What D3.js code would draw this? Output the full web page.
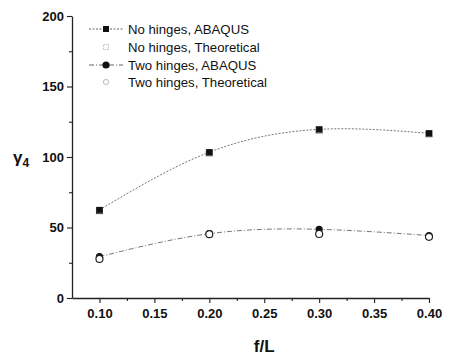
<!DOCTYPE html>
<html>
<head>
<meta charset="utf-8">
<script src="https://cdn.jsdelivr.net/npm/d3@7"></script>
<style>
  html, body { margin: 0; padding: 0; background: #fff; }
  svg { display: block; font-family: "Liberation Sans", Arial, sans-serif; }
</style>
</head>
<body>
<svg id="chart" width="449" height="355"></svg>
<script>
// f/L ratios on the horizontal axis
const ratios = [0.10, 0.20, 0.30, 0.40];

// gamma_4 values per series
const noHingesAbaqus = [62.5, 103.4, 119.6, 116.8];
const noHingesTheory = [62.0, 103.0, 119.2, 116.5];
const twoHingesAbaqus = [29.3, 45.6, 48.7, 44.3];
const twoHingesTheory = [27.7, 45.3, 45.4, 43.4];

const seriesNames = [
  "No hinges, ABAQUS",
  "No hinges, Theoretical",
  "Two hinges, ABAQUS",
  "Two hinges, Theoretical"
];

const xTicks = [0.10, 0.15, 0.20, 0.25, 0.30, 0.35, 0.40];
const xMinor = [0.125, 0.175, 0.225, 0.275, 0.325, 0.375];
const yTicks = [0, 50, 100, 150, 200];
const yMinor = [25, 75, 125, 175];

const svg = d3.select("#chart");

const x = d3.scaleLinear().domain([0.075, 0.40]).range([72, 429]);
const y = d3.scaleLinear().domain([0, 200]).range([298, 16]);

// axes
svg.append("g").attr("transform", `translate(0,${y(0)})`)
  .call(d3.axisBottom(x).tickValues(xTicks).tickFormat(d3.format(".2f"))
    .tickSize(5).tickSizeOuter(0).tickPadding(6));
svg.append("g").attr("transform", `translate(0,${y(0)})`)
  .call(d3.axisBottom(x).tickValues(xMinor).tickFormat("").tickSize(3).tickSizeOuter(0))
  .select(".domain").remove();

svg.append("g").attr("transform", `translate(${x(0.075)},0)`)
  .call(d3.axisLeft(y).tickValues(yTicks).tickSize(5).tickSizeOuter(0).tickPadding(3));
svg.append("g").attr("transform", `translate(${x(0.075)},0)`)
  .call(d3.axisLeft(y).tickValues(yMinor).tickFormat("").tickSize(3).tickSizeOuter(0))
  .select(".domain").remove();

svg.selectAll(".domain").attr("stroke", "#222").attr("stroke-width", 1.3);
svg.selectAll(".tick line").attr("stroke", "#222").attr("stroke-width", 1.1);
svg.selectAll(".tick text")
  .attr("font-family", "'Liberation Sans', Arial, sans-serif")
  .attr("font-size", 13).attr("font-weight", "bold").attr("fill", "#111");

// axis titles
svg.append("text")
  .attr("x", x(0.25)).attr("y", 352)
  .attr("text-anchor", "middle")
  .attr("font-size", 17).attr("font-weight", "bold").attr("fill", "#111")
  .text("f/L");

const yTitle = svg.append("text")
  .attr("x", 13).attr("y", 163)
  .attr("font-size", 17).attr("font-weight", "bold").attr("fill", "#111");
yTitle.append("tspan").text("γ");
yTitle.append("tspan").attr("font-size", 12).attr("dy", 4).text("4");

// smooth connecting curves
const line = d3.line()
  .x((d, i) => x(ratios[i]))
  .y(d => y(d))
  .curve(d3.curveNatural);

svg.append("path").datum(noHingesAbaqus)
  .attr("d", line).attr("fill", "none")
  .attr("stroke", "#777").attr("stroke-width", 1)
  .attr("stroke-dasharray", "2,1.5");

svg.append("path").datum(twoHingesAbaqus)
  .attr("d", line).attr("fill", "none")
  .attr("stroke", "#777").attr("stroke-width", 1)
  .attr("stroke-dasharray", "5,2,1,2");

// markers
const sq = 6;
svg.append("g").selectAll("rect").data(noHingesTheory).join("rect")
  .attr("x", (d, i) => x(ratios[i]) - sq / 2).attr("y", d => y(d) - sq / 2)
  .attr("width", sq).attr("height", sq)
  .attr("fill", "#fff").attr("stroke", "#444").attr("stroke-width", 1);

svg.append("g").selectAll("rect").data(noHingesAbaqus).join("rect")
  .attr("x", (d, i) => x(ratios[i]) - sq / 2).attr("y", d => y(d) - sq / 2)
  .attr("width", sq).attr("height", sq)
  .attr("fill", "#111");

svg.append("g").selectAll("circle").data(twoHingesAbaqus).join("circle")
  .attr("cx", (d, i) => x(ratios[i])).attr("cy", d => y(d))
  .attr("r", 3.6).attr("fill", "#111");

svg.append("g").selectAll("circle").data(twoHingesTheory).join("circle")
  .attr("cx", (d, i) => x(ratios[i])).attr("cy", d => y(d))
  .attr("r", 3.5).attr("fill", "#fff").attr("stroke", "#222").attr("stroke-width", 1.2);

// legend
const legendRows = [29, 47, 65, 82];
const lg = svg.append("g");
seriesNames.forEach((name, i) => {
  const ry = legendRows[i];
  if (i === 0 || i === 2) {
    lg.append("line").attr("x1", 89).attr("x2", 123).attr("y1", ry).attr("y2", ry)
      .attr("stroke", "#666").attr("stroke-width", 1)
      .attr("stroke-dasharray", i === 0 ? "2,1.5" : "5,2,1,2");
  }
  if (i === 0) {
    lg.append("rect").attr("x", 106 - sq / 2).attr("y", ry - sq / 2)
      .attr("width", sq).attr("height", sq).attr("fill", "#111");
  } else if (i === 1) {
    lg.append("rect").attr("x", 106 - 2.5).attr("y", ry - 2.5)
      .attr("width", 5).attr("height", 5)
      .attr("fill", "#fff").attr("stroke", "#aaa").attr("stroke-width", 0.8)
      .attr("stroke-dasharray", "1.5,1");
  } else if (i === 2) {
    lg.append("circle").attr("cx", 106).attr("cy", ry).attr("r", 3.6).attr("fill", "#111");
  } else {
    lg.append("circle").attr("cx", 106).attr("cy", ry).attr("r", 2.6)
      .attr("fill", "#fff").attr("stroke", "#aaa").attr("stroke-width", 0.8);
  }
  lg.append("text").attr("x", 128).attr("y", ry + 4.7)
    .attr("font-size", 13.2).attr("fill", "#111").text(name);
});
</script>
</body>
</html>
